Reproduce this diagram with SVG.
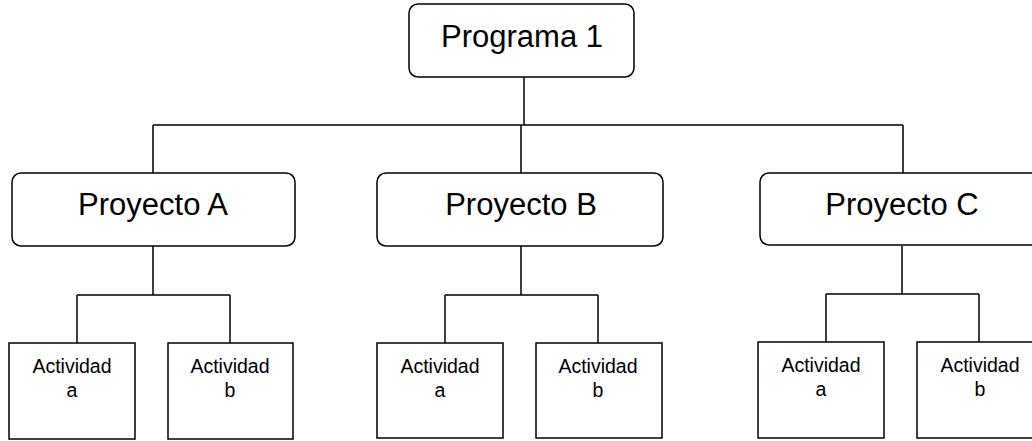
<svg xmlns="http://www.w3.org/2000/svg" width="1032" height="441" viewBox="0 0 1032 441">
  <style>
    .box { fill: #ffffff; stroke: #000000; stroke-width: 1.5; }
    .link { fill: none; stroke: #000000; stroke-width: 1.5; }
    .big { font-family: "Liberation Sans", Arial, sans-serif; font-size: 31px; fill: #000000; text-anchor: middle; }
    .small { font-family: "Liberation Sans", Arial, sans-serif; font-size: 19.5px; fill: #000000; text-anchor: middle; }
  </style>
  <rect width="1032" height="441" fill="#ffffff"/>

  <!-- connectors -->
  <g id="connectors" class="link">
    <path d="M524 77 V125 M153 125 H903 M153 125 V173 M521 125 V173 M903 125 V173"/>
    <path d="M153 246 V295 M77 295 H230 M77 295 V343 M230 295 V343"/>
    <path d="M521 246 V295 M445 295 H598 M445 295 V343 M598 295 V343"/>
    <path d="M902 246 V294 M826 294 H979 M826 294 V342 M979 294 V342"/>
  </g>

  <g id="programa-1">
    <rect class="box" x="409" y="4" width="225" height="73" rx="9"/>
    <text class="big" x="522" y="47">Programa 1</text>
  </g>

  <g id="proyecto-a">
    <rect class="box" x="12" y="173" width="283" height="73" rx="9"/>
    <text class="big" x="153" y="215">Proyecto A</text>
  </g>
  <g id="proyecto-b">
    <rect class="box" x="377" y="173" width="286" height="73" rx="9"/>
    <text class="big" x="521" y="215">Proyecto B</text>
  </g>
  <g id="proyecto-c">
    <rect class="box" x="760" y="173" width="284" height="72" rx="9"/>
    <text class="big" x="902" y="215">Proyecto C</text>
  </g>

  <g id="a-actividad-a">
    <rect class="box" x="9" y="343" width="126" height="96"/>
    <text class="small" x="72" y="373">Actividad</text>
    <text class="small" x="72" y="397">a</text>
  </g>
  <g id="a-actividad-b">
    <rect class="box" x="168" y="343" width="125" height="96"/>
    <text class="small" x="230" y="373">Actividad</text>
    <text class="small" x="230" y="397">b</text>
  </g>

  <g id="b-actividad-a">
    <rect class="box" x="377" y="343" width="126" height="95"/>
    <text class="small" x="440" y="373">Actividad</text>
    <text class="small" x="440" y="397">a</text>
  </g>
  <g id="b-actividad-b">
    <rect class="box" x="536" y="343" width="126" height="95"/>
    <text class="small" x="598" y="373">Actividad</text>
    <text class="small" x="598" y="397">b</text>
  </g>

  <g id="c-actividad-a">
    <rect class="box" x="758" y="342" width="126" height="96"/>
    <text class="small" x="821" y="372">Actividad</text>
    <text class="small" x="821" y="396">a</text>
  </g>
  <g id="c-actividad-b">
    <rect class="box" x="917" y="342" width="126" height="96"/>
    <text class="small" x="980" y="372">Actividad</text>
    <text class="small" x="980" y="396">b</text>
  </g>
</svg>
